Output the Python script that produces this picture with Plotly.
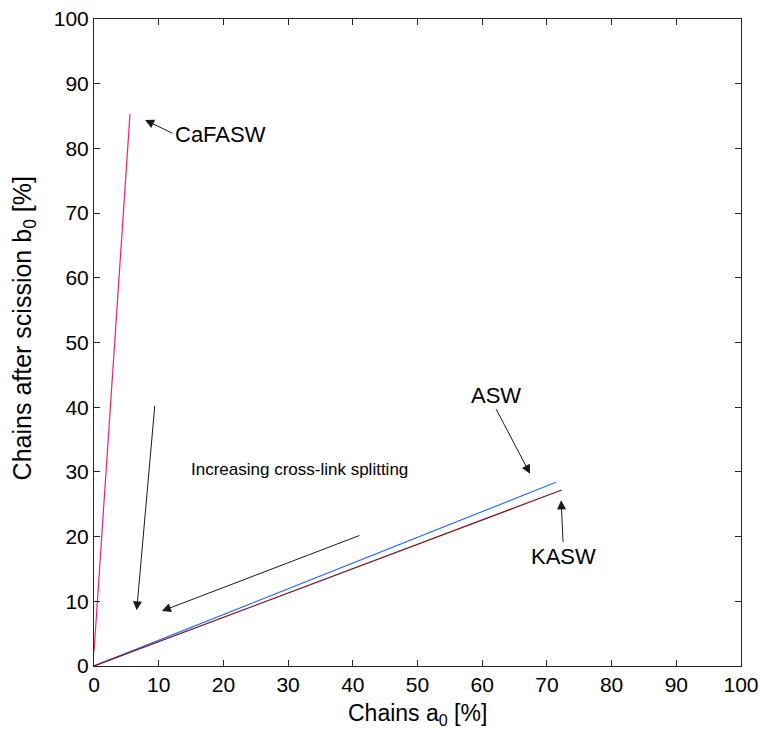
import plotly.graph_objects as go

# Chains a0 [%] vs chains after scission b0 [%] for each sample
casfasw_a = [0.0, 5.56]
casfasw_b = [2.2, 85.3]
asw_a = [0.0, 71.4]
asw_b = [0.0, 28.4]
kasw_a = [0.0, 72.3]
kasw_b = [0.0, 27.2]

tick_vals = list(range(0, 101, 10))

# Labels: (text, x, y)
labels = [
    ("CaFASW", 19.6, 82.1),
    ("ASW", 62.1, 41.8),
    ("KASW", 72.6, 16.9),
]
# Arrows: (tail_x, tail_y, head_x, head_y)
arrows = [
    (12.2, 82.3, 7.9, 84.4),
    (62.1, 39.8, 67.4, 29.7),
    (72.5, 19.1, 72.2, 25.6),
    (9.4, 40.3, 6.6, 8.6),
    (41.1, 20.2, 10.5, 8.5),
]
note_text = "Increasing cross-link splitting"
note_pos = (31.7, 30.3)

x_title = "Chains a<sub>0</sub> [%]"
y_title = "Chains after scission b<sub>0</sub> [%]"

fig = go.Figure()
fig.add_trace(go.Scatter(x=casfasw_a, y=casfasw_b, mode="lines",
                         line=dict(color="#ff1a6e", width=1.2), name="CaFASW"))
fig.add_trace(go.Scatter(x=asw_a, y=asw_b, mode="lines",
                         line=dict(color="#2a6ff5", width=1.2), name="ASW"))
fig.add_trace(go.Scatter(x=kasw_a, y=kasw_b, mode="lines",
                         line=dict(color="#7a1a22", width=1.2), name="KASW"))

font_family = "Liberation Sans, Arial, Helvetica, sans-serif"

annotations = []
for text, x, y in labels:
    annotations.append(dict(x=x, y=y, xref="x", yref="y", text=text,
                            showarrow=False, font=dict(size=22, color="#000000")))
for tx, ty, hx, hy in arrows:
    annotations.append(dict(x=hx, y=hy, ax=tx, ay=ty, xref="x", yref="y",
                            axref="x", ayref="y", text="", showarrow=True,
                            font=dict(size=1), borderpad=0,
                            arrowhead=2, arrowsize=1.8, arrowwidth=1,
                            arrowcolor="#1a1a1a", standoff=0, startstandoff=0))
annotations.append(dict(x=note_pos[0], y=note_pos[1], xref="x", yref="y",
                        text=note_text, showarrow=False,
                        font=dict(size=17, color="#000000")))

# Axis titles placed in paper coordinates
annotations.append(dict(x=0.5, y=-0.075, xref="paper", yref="paper",
                        xanchor="center", yanchor="middle", text=x_title,
                        showarrow=False, font=dict(size=23, color="#000000")))
annotations.append(dict(x=-0.108, y=0.522, xref="paper", yref="paper",
                        xanchor="center", yanchor="middle", text=y_title,
                        textangle=-90, showarrow=False,
                        font=dict(size=25, color="#000000")))

axis_common = dict(
    range=[0, 100], tickvals=tick_vals, ticks="inside", ticklen=6,
    tickwidth=1, tickcolor="#262626", showline=True, linecolor="#262626",
    linewidth=1, mirror="ticks", showgrid=False, zeroline=False,
    tickfont=dict(size=21, color="#000000"), automargin=False,
)

fig.update_layout(
    width=763, height=733,
    margin=dict(l=94, r=22, t=19, b=67),
    paper_bgcolor="white", plot_bgcolor="white",
    showlegend=False,
    font=dict(family=font_family, color="#000000"),
    xaxis=dict(**axis_common),
    yaxis=dict(**axis_common),
    annotations=annotations,
)

fig.write_html("out.html")
